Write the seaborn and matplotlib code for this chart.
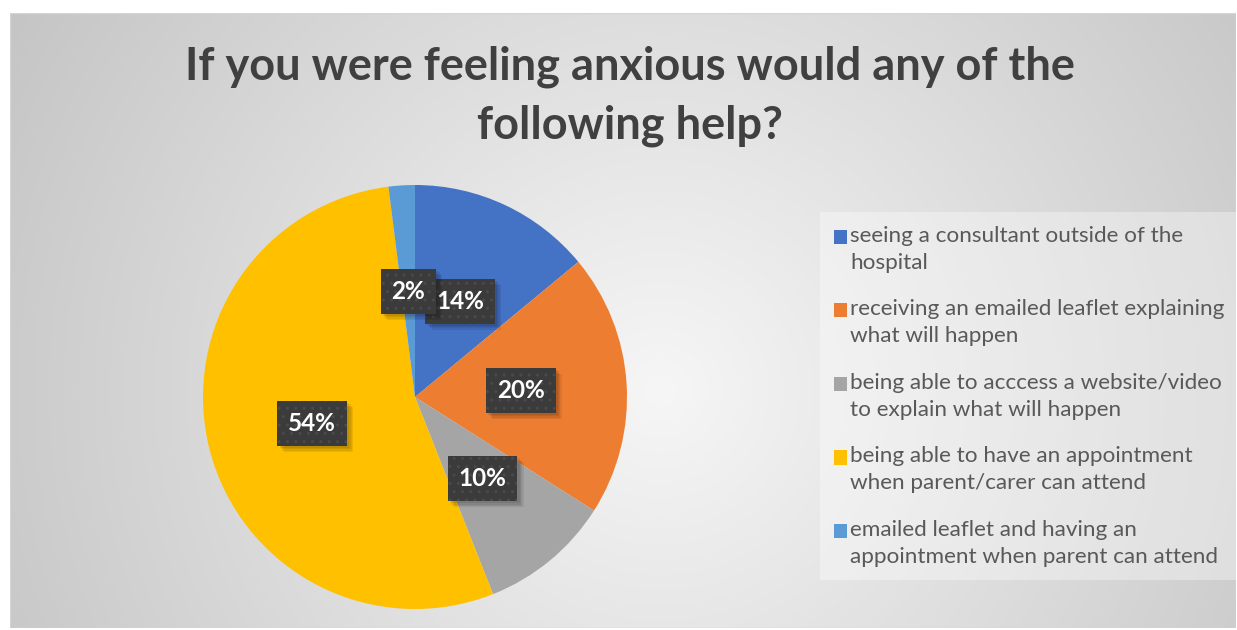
import numpy as np
import matplotlib
matplotlib.use("Agg")
import matplotlib.pyplot as plt
import matplotlib.patheffects as pe
from matplotlib.legend_handler import HandlerPatch
import seaborn as sns

# ---- data ----
categories = [
    "seeing a consultant outside of the\nhospital",
    "receiving an emailed leaflet explaining\nwhat will happen",
    "being able to acccess a website/video\nto explain what will happen",
    "being able to have an appointment\nwhen parent/carer can attend",
    "emailed leaflet and having an\nappointment when parent can attend",
]
values = [14, 20, 10, 54, 2]
colors = ["#4472C4", "#ED7D31", "#A5A5A5", "#FFC000", "#5B9BD5"]
title = "If you were feeling anxious would any of the\nfollowing help?"

sns.set_style("white")
plt.rcParams["font.family"] = ["Lato", "DejaVu Sans"]

W, H = 1237, 630
fig = plt.figure(figsize=(W / 100, H / 100), dpi=100)
fig.patch.set_facecolor("white")

# chart area background with radial gradient
x0, y0, x1, y1 = 10, 13, 1236, 628
bg = fig.add_axes([x0 / W, (H - y1) / H, (x1 - x0) / W, (y1 - y0) / H])
yy, xx = np.mgrid[y0:y1, x0:x1]
cx, cy = 660, 390
d = np.sqrt((xx - cx) ** 2 + (yy - cy) ** 2) / 720.0
g = np.clip(0.965 - 0.185 * d, 0.76, 1.0)
bg.imshow(np.dstack([g, g, g]), aspect="auto", interpolation="bilinear")
bg.set_axis_off()
bg.add_patch(plt.Rectangle((0, 0), 1, 1, transform=bg.transAxes, fill=False,
                           edgecolor="#d4d4d4", linewidth=1))

# title
fig.text(630 / W, 1 - 96 / H, title, ha="center", va="center",
         fontsize=32.5, fontweight="bold", color="#404040", linespacing=1.5)


class SoftShadow(pe.SimplePatchShadow):
    """Shadow without the hatch pattern of the box."""
    def draw_path(self, renderer, gc, tpath, affine, rgbFace):
        gc0 = renderer.new_gc()
        gc0.copy_properties(gc)
        gc0.set_hatch(None)
        super().draw_path(renderer, gc0, tpath, affine, rgbFace)
        gc0.restore()


# pie
pcx, pcy, r = 415, 397, 212
ax = fig.add_axes([(pcx - r) / W, (H - pcy - r) / H, 2 * r / W, 2 * r / H])
wedges, texts, autotexts = ax.pie(
    values, colors=colors, startangle=90, counterclock=False,
    autopct=lambda p: f"{p:.0f}%", pctdistance=0.5,
    wedgeprops=dict(linewidth=0),
    textprops=dict(color="white", fontsize=17.5, fontweight="bold"),
)
ax.set_xlim(-1, 1)
ax.set_ylim(-1, 1)
ax.set_axis_off()
for t in autotexts:
    t.set_bbox(dict(boxstyle="square,pad=0.45", facecolor="#3b3b3b",
                    edgecolor="#4a4a4a", hatch="..", linewidth=0))
    t.get_bbox_patch().set_path_effects(
        [SoftShadow(offset=(o, -o), shadow_rgbFace="black", alpha=0.07)
         for o in (1.5, 2.5, 3.5, 4.5)] + [pe.Normal()])


# legend: square marker aligned with the first line of each two-line label
def top_square(legend, orig_handle, xdescent, ydescent, width, height, fontsize):
    return plt.Rectangle((-xdescent, -ydescent + 0.55 * fontsize), width, height)


leg = fig.legend(wedges, categories, loc="upper left",
                 bbox_to_anchor=(820 / W, 1 - 212 / H), borderaxespad=0,
                 fontsize=16.2, frameon=True, fancybox=False,
                 handlelength=0.6, handleheight=0.6, handletextpad=0.15,
                 labelspacing=1.17, borderpad=0.6, labelcolor="#595959",
                 handler_map={w: HandlerPatch(patch_func=top_square) for w in wedges})
frame = leg.get_frame()
frame.set_facecolor("white")
frame.set_alpha(0.35)
frame.set_edgecolor("none")
for t in leg.get_texts():
    t.set_linespacing(1.45)

fig.savefig("out.png", dpi=100)
